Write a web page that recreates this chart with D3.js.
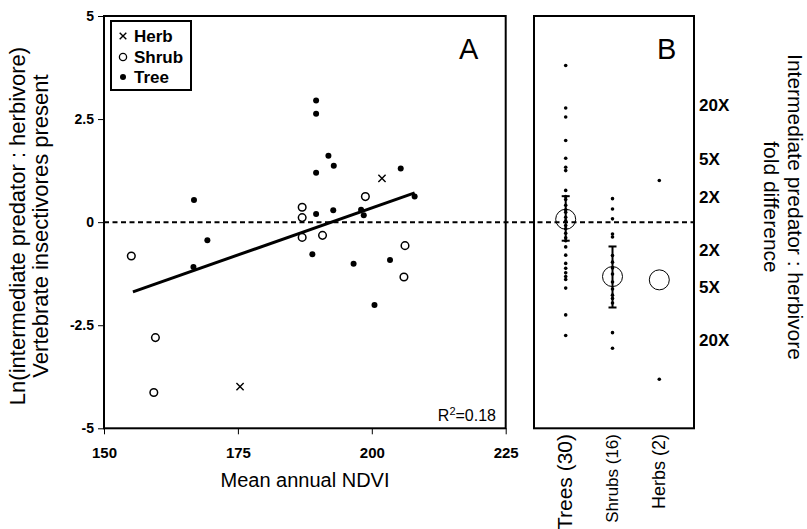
<!DOCTYPE html>
<html>
<head>
<meta charset="utf-8">
<script src="https://cdn.jsdelivr.net/npm/d3@7"></script>
<style>
body { margin: 0; background: #fff; }
text { font-family: "Liberation Sans", Arial, sans-serif; }
</style>
</head>
<body>
<svg width="807" height="529"></svg>
<script>
// panel A : NDVI vs ln ratio, by growth form
var treeNdvi  = [166.8, 189.6, 189.6, 191.9, 192.9, 189.6, 205.4, 208.0, 189.6, 192.8, 198.0, 198.5, 188.9, 196.6, 203.4, 200.5, 169.3, 166.7];
var treeLn    = [0.54, 2.95, 2.63, 1.61, 1.37, 1.20, 1.30, 0.62, 0.20, 0.29, 0.30, 0.17, -0.78, -1.01, -0.92, -2.01, -0.44, -1.09];
var shrubNdvi = [187.0, 187.0, 198.8, 187.0, 190.8, 206.2, 206.0, 155.1, 159.6, 159.3];
var shrubLn   = [0.36, 0.11, 0.62, -0.37, -0.32, -0.57, -1.33, -0.82, -2.80, -4.13];
var herbNdvi  = [201.9, 175.4];
var herbLn    = [1.06, -3.99];
var fitNdvi = [155.4, 208.0];
var fitLn   = [-1.69, 0.71];

// panel B : ratios per growth form
var groups = ["Trees", "Shrubs", "Herbs"];
var groupLabels = ["Trees (30)", "Shrubs (16)", "Herbs (2)"];
var treeVals  = [3.80, 2.77, 2.55, 1.98, 1.55, 1.33, 1.25, 0.77, 0.62, 0.55, 0.41, 0.30, 0.24, 0.12, 0.03, -0.08, -0.16, -0.27, -0.38, -0.45, -0.60, -0.80, -1.00, -1.12, -1.23, -1.32, -1.39, -1.60, -2.25, -2.75];
var shrubVals = [0.57, 0.32, 0.08, -0.29, -0.36, -0.81, -0.97, -1.11, -1.26, -1.45, -1.62, -1.77, -1.85, -1.96, -2.68, -3.06];
var herbVals  = [1.01, -3.81];
var groupMean = [0.07, -1.32, -1.40];
var groupLo   = [-0.45, -2.07, null];
var groupHi   = [0.63, -0.59, null];

var yTicks = [5, 2.5, 0, -2.5, -5];
var xTicks = [150, 175, 200, 225];
var foldLabels = ["20X", "5X", "2X", "2X", "5X", "20X"];
var foldPos    = [2.84, 1.53, 0.61, -0.67, -1.57, -2.86];

var svg = d3.select("svg");

var x = d3.scaleLinear().domain([150, 225]).range([104, 505.7]);
var y = d3.scaleLinear().domain([-5, 5]).range([428.3, 16]);
var xb = d3.scalePoint().domain(groups).range([565.7, 659.3]);

// boxes
svg.append("rect").attr("x", 104).attr("y", 16).attr("width", 401.7).attr("height", 412.3)
  .attr("fill", "none").attr("stroke", "#000").attr("stroke-width", 2);
svg.append("rect").attr("x", 534).attr("y", 16).attr("width", 160).attr("height", 412.3)
  .attr("fill", "none").attr("stroke", "#000").attr("stroke-width", 2);

// zero line across both panels
svg.append("line")
  .attr("x1", 104).attr("x2", 694)
  .attr("y1", y(0)).attr("y2", y(0))
  .attr("stroke", "#000").attr("stroke-width", 2)
  .attr("stroke-dasharray", "5,3.5");

// axes
var yAxis = d3.axisLeft(y).tickValues(yTicks).tickSize(6).tickSizeOuter(0).tickPadding(4)
  .tickFormat(function(d) { return String(d); });
var gy = svg.append("g").attr("transform", "translate(104,0)").call(yAxis);
gy.select(".domain").remove();
gy.selectAll("line").attr("stroke-width", 1);
gy.selectAll("text").attr("font-size", "14px").attr("font-weight", "bold")
  .attr("font-family", "Liberation Sans, Arial, sans-serif");

var xAxis = d3.axisBottom(x).tickValues(xTicks).tickSize(6).tickSizeOuter(0).tickPadding(13)
  .tickFormat(function(d) { return String(d); });
var gx = svg.append("g").attr("transform", "translate(0,428.3)").call(xAxis);
gx.select(".domain").remove();
gx.selectAll("line").attr("stroke-width", 1);
gx.selectAll("text").attr("font-size", "15px").attr("font-weight", "bold")
  .attr("font-family", "Liberation Sans, Arial, sans-serif");

// regression line
svg.append("line")
  .attr("x1", x(fitNdvi[0])).attr("y1", y(fitLn[0]))
  .attr("x2", x(fitNdvi[1])).attr("y2", y(fitLn[1]))
  .attr("stroke", "#000").attr("stroke-width", 3);

// panel A points
var treeData = treeNdvi.map(function(v, i) { return {x: v, y: treeLn[i]}; });
var shrubData = shrubNdvi.map(function(v, i) { return {x: v, y: shrubLn[i]}; });
var herbData = herbNdvi.map(function(v, i) { return {x: v, y: herbLn[i]}; });

svg.append("g").selectAll("circle").data(shrubData).enter().append("circle")
  .attr("cx", function(d) { return x(d.x); })
  .attr("cy", function(d) { return y(d.y); })
  .attr("r", 3.8).attr("fill", "#fff").attr("stroke", "#000").attr("stroke-width", 1.5);

svg.append("g").selectAll("circle").data(treeData).enter().append("circle")
  .attr("cx", function(d) { return x(d.x); })
  .attr("cy", function(d) { return y(d.y); })
  .attr("r", 3).attr("fill", "#000");

function cross(g, cx, cy, s) {
  g.append("path")
    .attr("d", "M" + (cx - s) + "," + (cy - s) + "L" + (cx + s) + "," + (cy + s) +
               "M" + (cx - s) + "," + (cy + s) + "L" + (cx + s) + "," + (cy - s))
    .attr("stroke", "#000").attr("stroke-width", 1.4).attr("fill", "none");
}
var hg = svg.append("g");
herbData.forEach(function(d) { cross(hg, x(d.x), y(d.y), 3.6); });

// legend
svg.append("rect").attr("x", 111).attr("y", 21).attr("width", 80).attr("height", 69)
  .attr("fill", "#fff").attr("stroke", "#000").attr("stroke-width", 2);
var legY = [36, 57, 77];
cross(svg, 123, legY[0], 3.3);
svg.append("circle").attr("cx", 123).attr("cy", legY[1]).attr("r", 3.6)
  .attr("fill", "#fff").attr("stroke", "#000").attr("stroke-width", 1.3);
svg.append("circle").attr("cx", 123).attr("cy", legY[2]).attr("r", 3).attr("fill", "#000");
["Herb", "Shrub", "Tree"].forEach(function(t, i) {
  svg.append("text").attr("x", 134).attr("y", legY[i]).attr("dy", "0.36em")
    .attr("font-size", "17px").attr("font-weight", "bold").text(t);
});

// panel letters + r2
svg.append("text").attr("x", 459).attr("y", 59).attr("font-size", "29px").text("A");
svg.append("text").attr("x", 657).attr("y", 59).attr("font-size", "29px").text("B");
var r2 = svg.append("text").attr("x", 496).attr("y", 421).attr("text-anchor", "end").attr("font-size", "16px");
r2.append("tspan").text("R");
r2.append("tspan").attr("font-size", "11px").attr("dy", "-6").text("2");
r2.append("tspan").attr("dy", "6").text("=0.18");

// panel B points
var bVals = [treeVals, shrubVals, herbVals];
groups.forEach(function(gname, i) {
  svg.append("g").selectAll("circle").data(bVals[i]).enter().append("circle")
    .attr("cx", xb(gname))
    .attr("cy", function(d) { return y(d); })
    .attr("r", 1.8).attr("fill", "#000");

  if (groupLo[i] != null) {
    svg.append("line").attr("x1", xb(gname)).attr("x2", xb(gname))
      .attr("y1", y(groupLo[i])).attr("y2", y(groupHi[i]))
      .attr("stroke", "#000").attr("stroke-width", 2);
    [groupLo[i], groupHi[i]].forEach(function(v) {
      svg.append("line").attr("x1", xb(gname) - 4).attr("x2", xb(gname) + 4)
        .attr("y1", y(v)).attr("y2", y(v))
        .attr("stroke", "#000").attr("stroke-width", 2);
    });
  }
  svg.append("circle").attr("cx", xb(gname)).attr("cy", y(groupMean[i])).attr("r", 10)
    .attr("fill", "none").attr("stroke", "#000").attr("stroke-width", 1);
});

// category labels (rotated)
var catFont = [21, 17, 18];
groupLabels.forEach(function(t, i) {
  var cx = xb(groups[i]) + 0.3 * catFont[i];
  svg.append("text")
    .attr("transform", "translate(" + cx + ",434) rotate(-90)")
    .attr("text-anchor", "end").attr("font-size", catFont[i] + "px").text(t);
});

// right side fold labels
svg.append("g").selectAll("text").data(foldPos).enter().append("text")
  .attr("x", 699)
  .attr("y", function(d) { return y(d); })
  .attr("dy", "0.36em")
  .attr("font-size", "17px").attr("font-weight", "bold")
  .text(function(d, i) { return foldLabels[i]; });

// axis titles
svg.append("text").attr("x", 305).attr("y", 487).attr("text-anchor", "middle")
  .attr("font-size", "20px").text("Mean annual NDVI");

svg.append("text").attr("transform", "translate(25,226) rotate(-90)")
  .attr("text-anchor", "middle").attr("font-size", "22px")
  .text("Ln(intermediate predator : herbivore)");
svg.append("text").attr("transform", "translate(48,226) rotate(-90)")
  .attr("text-anchor", "middle").attr("font-size", "22px")
  .text("Vertebrate insectivores present");

svg.append("text").attr("transform", "translate(788,207) rotate(90)")
  .attr("text-anchor", "middle").attr("font-size", "21px")
  .text("Intermediate predator : herbivore");
svg.append("text").attr("transform", "translate(764,207) rotate(90)")
  .attr("text-anchor", "middle").attr("font-size", "21px")
  .text("fold difference");
</script>
</body>
</html>
